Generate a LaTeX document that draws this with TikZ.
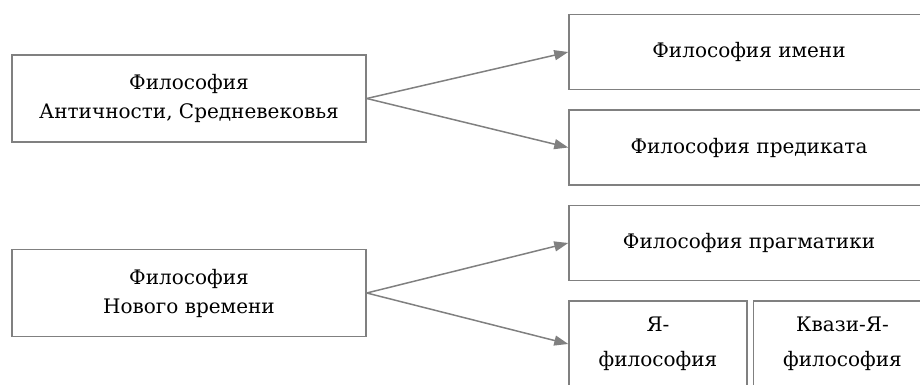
\documentclass[tikz,border=0pt]{standalone}
\usepackage{fontspec}
\setmainfont{DejaVu Serif}
\usepackage{tikz}
\usetikzlibrary{positioning, arrows.meta}
\tikzset{
	era/.style={
		draw=gray,
		line width=0.75pt,
		minimum width=177pt,
		minimum height=43.5pt,
		align=center,
		font=\fontsize{10}{14.5}\selectfont
	},
	branch/.style={
		draw=gray,
		line width=0.75pt,
		minimum width=180pt,
		minimum height=37.5pt,
		font=\fontsize{10}{14.5}\selectfont
	},
	subBranch/.style={
		draw=gray,
		line width=0.75pt,
		minimum width=89pt,
		minimum height=43pt,
		align=center,
		font=\fontsize{10}{17.5}\selectfont
	},
	flow/.style={
		draw=gray,
		line width=0.75pt,
		-{Triangle[length=7pt, width=5pt]}
	},
}

\begin{document}
\begin{tikzpicture}[x=0.5pt, y=-0.5pt]
	\clip (0,0) rectangle (920,385);

	% eras
	\node [era] (ancient) at (189,98.5) {Философия\\Античности, Средневековья};
	\node [era] (modern) at (189,293) {Философия\\Нового времени};

	% branches of the first era
	\node [branch] (name) at (749,52) {Философия имени};
	\node [branch, below=9.5pt of name] (predicate) {Философия предиката};

	% branches of the second era
	\node [branch, below=9.5pt of predicate] (pragmatics) {Философия прагматики};
	\node [subBranch, below=9.5pt of pragmatics.south west, anchor=north west] (ego) {Я-\\философия};
	\node [subBranch, right=2.5pt of ego] (quasiEgo) {Квази-Я-\\философия};

	% connections
	\draw [flow] (ancient.east) -- (name.west);
	\draw [flow] (ancient.east) -- (predicate.west);
	\draw [flow] (modern.east) -- (pragmatics.west);
	\draw [flow] (modern.east) -- (ego.west);
\end{tikzpicture}
\end{document}
